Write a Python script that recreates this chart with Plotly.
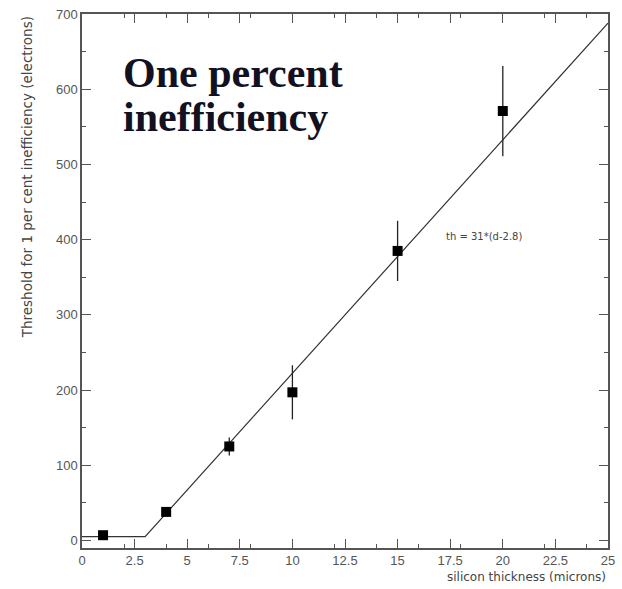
import plotly.graph_objects as go

# Measured thresholds vs. silicon thickness
thickness = [1, 4, 7, 10, 15, 20]
threshold = [7, 38, 125, 197, 385, 571]
threshold_err = [3, 5, 12, 36, 40, 60]

# Fitted curve th = 31*(d-2.8), flat at the low end
fit_x = [0, 3.0, 25]
fit_y = [5, 5, 688]

axis_col = "#555555"
sans = "DejaVu Sans, Verdana, sans-serif"
tick_font = dict(family="Liberation Sans, Arial, sans-serif", size=13, color="#555555")

fig = go.Figure()
fig.add_trace(go.Scatter(
    x=fit_x, y=fit_y, mode="lines",
    line=dict(color="#333333", width=1.2), hoverinfo="skip", showlegend=False))
fig.add_trace(go.Scatter(
    x=thickness, y=threshold, mode="markers",
    marker=dict(symbol="square", size=10, color="black"),
    error_y=dict(type="data", array=threshold_err, color="#222222", thickness=1.3, width=0),
    showlegend=False))

axis_common = dict(
    showgrid=False, zeroline=False, showline=True, linecolor=axis_col, linewidth=1.5,
    mirror="allticks", ticks="inside", ticklen=9, tickcolor=axis_col, tickwidth=1,
    tickfont=tick_font, ticklabeloverflow="allow",
    minor=dict(ticks="inside", ticklen=4, tickcolor=axis_col, nticks=5),
)
fig.update_xaxes(range=[0, 25], tickvals=[0, 2.5, 5, 7.5, 10, 12.5, 15, 17.5, 20, 22.5, 25],
                 ticktext=["0", "2.5", "5", "7.5", "10", "12.5", "15", "17.5", "20", "22.5", "25"],
                 **axis_common)
fig.update_yaxes(range=[-10, 700], tickvals=[0, 100, 200, 300, 400, 500, 600, 700], **axis_common)

serif_big = dict(family="Liberation Serif, Times New Roman, serif", size=42, color="#111122")
fig.add_annotation(text="<b>One percent</b>", xref="paper", yref="paper",
                   x=0.075, y=0.889, xanchor="left", yanchor="middle", showarrow=False,
                   font=serif_big)
fig.add_annotation(text="<b>inefficiency</b>", xref="paper", yref="paper",
                   x=0.075, y=0.807, xanchor="left", yanchor="middle", showarrow=False,
                   font=serif_big)
fig.add_annotation(text="th = 31*(d-2.8)", x=17.2, y=404, xanchor="left", yanchor="middle",
                   showarrow=False, font=dict(family=sans, size=10, color="#444444"))
fig.add_annotation(text="silicon thickness (microns)", xref="paper", yref="paper",
                   x=1.0, y=-0.054, xanchor="right", yanchor="middle", showarrow=False,
                   font=dict(family=sans, size=12, color="#444444"))
fig.add_annotation(text="Threshold for 1 per cent inefficiency (electrons)", xref="paper", yref="paper",
                   x=-0.085, y=1.0, xanchor="right", yanchor="top", textangle=-90, showarrow=False,
                   font=dict(family=sans, size=13.5, color="#444444"))

fig.update_layout(width=622, height=589, margin=dict(l=82, r=7, t=14, b=41),
                  plot_bgcolor="white", paper_bgcolor="white")
fig.write_html("out.html")
